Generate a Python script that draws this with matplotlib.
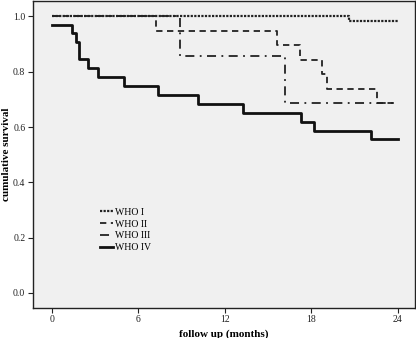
import matplotlib
matplotlib.use("Agg")
import matplotlib.pyplot as plt

# survival curves (months, cumulative survival)
who1_t = [0, 20.6, 24]
who1_s = [1.0, 0.984, 0.984]

who2_t = [0, 7.25, 15.6, 17.2, 18.75, 19.1, 22.6, 24]
who2_s = [1.0, 0.948, 0.898, 0.843, 0.792, 0.737, 0.686, 0.686]

who3_t = [0, 8.9, 16.2, 24]
who3_s = [1.0, 0.857, 0.686, 0.686]

who4_t = [0, 1.4, 1.65, 1.9, 2.5, 3.2, 5.05, 7.35, 10.15, 13.3, 17.3, 18.2, 22.15, 24]
who4_s = [0.970, 0.939, 0.906, 0.845, 0.814, 0.781, 0.749, 0.716, 0.684, 0.651, 0.620, 0.587, 0.555, 0.555]

labels = ['WHO I', 'WHO II', 'WHO III', 'WHO IV']
xticks = [0, 6, 12, 18, 24]
yticks = [0.0, 0.2, 0.4, 0.6, 0.8, 1.0]

plt.rcParams['font.family'] = ['Liberation Serif', 'DejaVu Serif']

fig = plt.figure(figsize=(4.16, 3.38), dpi=100)
ax = fig.add_axes([0.0793, 0.090, 0.918, 0.908])
ax.set_facecolor('#f0f0f0')

ax.step(who1_t, who1_s, where='post', color='#222222', lw=1.6, linestyle=(0, (1, 0.6)), label=labels[0])
ax.step(who2_t, who2_s, where='post', color='#222222', lw=1.3, linestyle=(0, (3.5, 2.5)), label=labels[1])
ax.step(who3_t, who3_s, where='post', color='#222222', lw=1.3, linestyle=(0, (5, 3, 1, 3)), label=labels[2])
ax.step(who4_t, who4_s, where='post', color='#111111', lw=2.0, label=labels[3])

ax.set_xlim(-1.3, 25.2)
ax.set_ylim(-0.053, 1.057)
ax.set_xticks(xticks)
ax.set_xticklabels([str(x) for x in xticks])
ax.set_yticks(yticks)
ax.set_yticklabels([f'{y:.1f}' for y in yticks])
ax.tick_params(direction='out', length=3.5, width=0.8, labelsize=7, colors='#222222', pad=2)
for sp in ax.spines.values():
    sp.set_color('#222222')
    sp.set_linewidth(1.0)

ax.set_xlabel('follow up (months)', fontsize=8, fontweight='bold', labelpad=4)
ax.set_ylabel('cumulative survival', fontsize=8, fontweight='bold')
ax.yaxis.set_label_coords(-0.058, 0.5)

ax.legend(loc='upper left', bbox_to_anchor=(0.175, 0.325), frameon=False, fontsize=7,
          handlelength=1.4, handletextpad=0.2, labelspacing=0.28, borderpad=0, borderaxespad=0)

fig.savefig('out.png', dpi=100)
